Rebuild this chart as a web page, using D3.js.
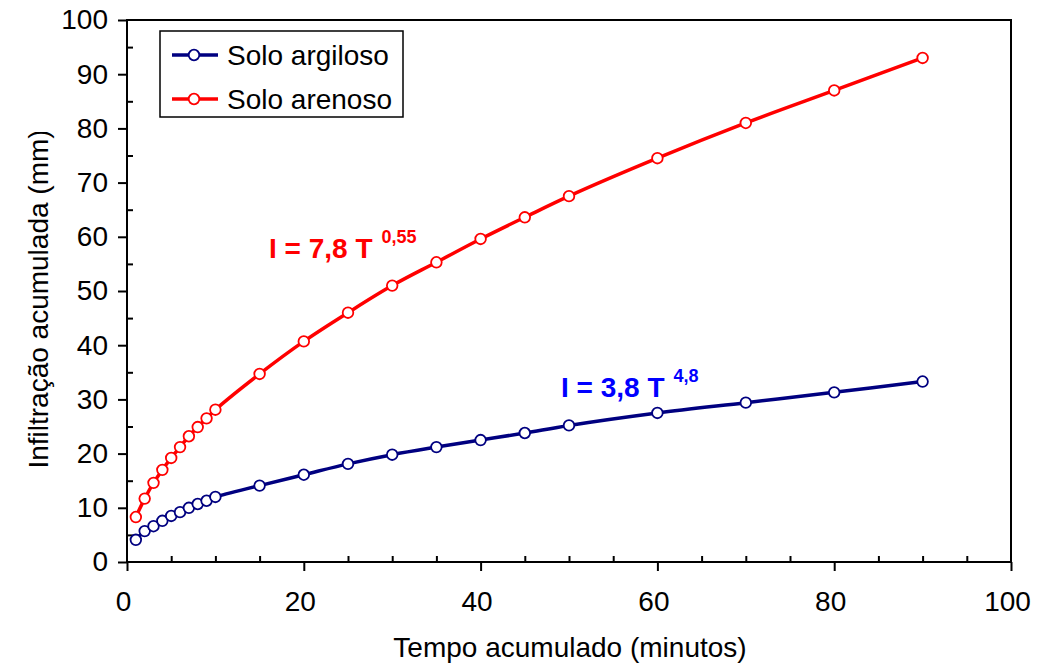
<!DOCTYPE html>
<html>
<head>
<meta charset="utf-8">
<script src="https://cdn.jsdelivr.net/npm/d3@7"></script>
<style>
  body { margin: 0; background: #fff; }
  text { font-family: "Liberation Sans", Arial, sans-serif; }
</style>
</head>
<body>
<div id="chart"></div>
<script>
// tempo acumulado (min)
const tempo = [1, 2, 3, 4, 5, 6, 7, 8, 9, 10, 15, 20, 25, 30, 35, 40, 45, 50, 60, 70, 80, 90];
const argiloso = [4.1, 5.7, 6.6, 7.6, 8.5, 9.2, 10.0, 10.7, 11.3, 12.0, 14.1, 16.1, 18.1, 19.8, 21.2, 22.5, 23.8, 25.2, 27.5, 29.4, 31.3, 33.3];
const arenoso = [8.3, 11.7, 14.6, 17.0, 19.2, 21.2, 23.2, 24.9, 26.5, 28.1, 34.7, 40.7, 46.0, 51.0, 55.3, 59.6, 63.6, 67.5, 74.5, 81.0, 87.0, 93.0];
const xTicks = [0, 20, 40, 60, 80, 100];
const yTicks = [0, 10, 20, 30, 40, 50, 60, 70, 80, 90, 100];

const W = 1048, H = 665;
const m = { left: 127, right: 37, top: 20, bottom: 103 };
const FS = "28px";

const svg = d3.select("#chart").append("svg")
  .attr("width", W)
  .attr("height", H);

const x = d3.scaleLinear().domain([0, 100]).range([m.left, W - m.right]);
const y = d3.scaleLinear().domain([0, 100]).range([H - m.bottom, m.top]);

// frame
svg.append("rect")
  .attr("x", x(0)).attr("y", y(100))
  .attr("width", x(100) - x(0)).attr("height", y(0) - y(100))
  .attr("fill", "none").attr("stroke", "#000").attr("stroke-width", 2);

// major ticks outside, minor ticks inside
svg.append("g").attr("class", "xmaj").attr("transform", `translate(0,${y(0)})`)
  .call(d3.axisBottom(x).tickValues(xTicks).tickSize(9).tickPadding(20).tickFormat(d3.format("d")));
svg.append("g").attr("transform", `translate(0,${y(0)})`)
  .call(d3.axisBottom(x).tickValues(d3.range(5, 100, 5).filter(v => v % 20)).tickSize(-6).tickFormat(""));
svg.append("g").attr("transform", `translate(${x(0)},0)`)
  .call(d3.axisLeft(y).tickValues(yTicks).tickSize(9).tickPadding(10));
svg.append("g").attr("transform", `translate(${x(0)},0)`)
  .call(d3.axisLeft(y).tickValues(d3.range(5, 100, 10)).tickSize(-6).tickFormat(""));

svg.selectAll(".domain").remove();
svg.selectAll(".tick line").attr("stroke", "#000").attr("stroke-width", 2);
svg.selectAll(".tick text").attr("fill", "#000").style("font-size", FS)
  .style("font-family", "'Liberation Sans', Arial, sans-serif");
svg.selectAll(".xmaj .tick text").attr("dx", -4);

// axis titles
svg.append("text")
  .attr("x", 570).attr("y", 657)
  .attr("text-anchor", "middle")
  .style("font-size", FS)
  .text("Tempo acumulado (minutos)");

svg.append("clipPath").attr("id", "yclip")
  .append("rect").attr("x", 0).attr("y", 132).attr("width", 100).attr("height", 500);
svg.append("g")
  .attr("clip-path", "url(#yclip)")
  .append("text")
  .attr("transform", "translate(48,299) rotate(-90)")
  .attr("text-anchor", "middle")
  .style("font-size", FS)
  .text("Infiltração acumulada (mm)");

// series
const series = [
  { name: "Solo argiloso", values: argiloso, color: "#000080" },
  { name: "Solo arenoso", values: arenoso, color: "#ff0000" }
];

const line = d3.line()
  .x(d => x(d[0]))
  .y(d => y(d[1]))
  .curve(d3.curveCatmullRom.alpha(0.5));

series.forEach(s => {
  const pts = tempo.map((t, i) => [t, s.values[i]]);
  svg.append("path")
    .attr("d", line(pts))
    .attr("fill", "none")
    .attr("stroke", s.color)
    .attr("stroke-width", 3.5);
  svg.append("g").selectAll("circle")
    .data(pts)
    .enter().append("circle")
    .attr("cx", d => x(d[0]))
    .attr("cy", d => y(d[1]))
    .attr("r", 5.3)
    .attr("fill", "#fff")
    .attr("stroke", s.color)
    .attr("stroke-width", 1.8);
});

// legend
const lg = svg.append("g");
lg.append("rect")
  .attr("x", 160).attr("y", 31).attr("width", 243).attr("height", 86)
  .attr("fill", "#fff").attr("stroke", "#000").attr("stroke-width", 1.5);
series.forEach((s, i) => {
  const ly = 55 + i * 44;
  lg.append("line")
    .attr("x1", 172).attr("x2", 218).attr("y1", ly).attr("y2", ly)
    .attr("stroke", s.color).attr("stroke-width", 3.5);
  lg.append("circle")
    .attr("cx", 194).attr("cy", ly).attr("r", 5.3)
    .attr("fill", "#fff").attr("stroke", s.color).attr("stroke-width", 1.8);
  lg.append("text")
    .attr("x", 227).attr("y", ly + 10)
    .style("font-size", FS)
    .text(s.name);
});

// equations
function equation(tx, ty, base, exp, color) {
  const t = svg.append("text")
    .attr("x", tx).attr("y", ty)
    .attr("fill", color)
    .style("font-weight", "bold")
    .style("font-size", "28px");
  t.append("tspan").text(base);
  t.append("tspan").attr("dx", 9).attr("dy", -15).style("font-size", "18px").text(exp);
}
equation(269, 258, "I = 7,8 T", "0,55", "#ff0000");
equation(561, 397, "I = 3,8 T", "4,8", "#0000ff");
</script>
</body>
</html>
